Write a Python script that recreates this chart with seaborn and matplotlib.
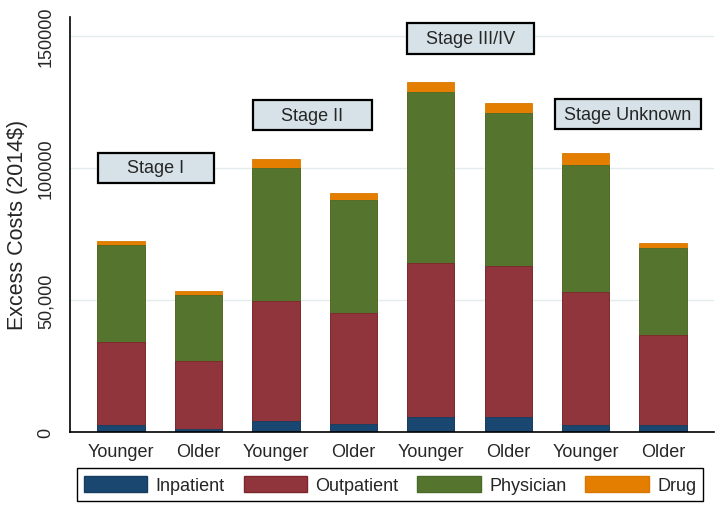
import numpy as np
import pandas as pd
import matplotlib
matplotlib.use("Agg")
import matplotlib.pyplot as plt
import matplotlib.patches as mpatches
import seaborn as sns

# --- data ---
bars = ["I_young", "I_old", "II_young", "II_old",
        "III_young", "III_old", "U_young", "U_old"]
age_labels = ["Younger", "Older"] * 4
components = ["Inpatient", "Outpatient", "Physician", "Drug"]

inpatient = [2800, 1250, 4300, 3300, 5900, 5900, 2800, 2800]
outpatient = [31300, 25650, 45550, 41900, 58100, 57000, 50200, 34100]
physician = [36600, 25200, 50250, 42800, 64900, 58050, 48250, 32800]
drug = [1500, 1300, 3200, 2650, 3700, 3650, 4450, 2000]

yticks = [0, 50000, 100000, 150000]
ytick_labels = ["0", "50,000", "100000", "150000"]

stage_labels = ["Stage I", "Stage II", "Stage III/IV", "Stage Unknown"]
stage_x = [0.45, 2.47, 4.51, 6.55]
stage_y = [100000, 120000, 149000, 120300]
stage_w = [1.49, 1.54, 1.64, 1.89]

colors = {"Inpatient": "#1A476F", "Outpatient": "#90353B",
          "Physician": "#55752F", "Drug": "#E37E00"}
edges = {"Inpatient": "#163d60", "Outpatient": "#7e262d",
         "Physician": "#4a6a28", "Drug": "#d87800"}

df = pd.DataFrame({"bar": bars, "Inpatient": inpatient, "Outpatient": outpatient,
                   "Physician": physician, "Drug": drug})
cum = df[components].cumsum(axis=1)
cum["bar"] = df["bar"]

sns.set_style("white")
plt.rcParams['font.family'] = ['Liberation Sans', 'DejaVu Sans']

fig = plt.figure(figsize=(7.21, 5.10), dpi=100)
ax = fig.add_axes([0.0971, 0.1504, 0.8932, 0.8137])

# stacked bars: draw cumulative totals from the top layer down
for comp in reversed(components):
    sns.barplot(data=cum, x="bar", y=comp, order=bars, color=colors[comp],
                saturation=1, width=0.61, errorbar=None, ax=ax,
                edgecolor=edges[comp], linewidth=0.6, zorder=2)

ax.set_xlim(-0.66, 7.66)
ax.set_ylim(0, 157000)
ax.set_xticks(range(len(bars)))
ax.set_xticklabels(age_labels)
ax.set_yticks(yticks)
ax.set_yticklabels(ytick_labels, rotation=90, va="center")
ax.set_xlabel("")
ax.set_ylabel("Excess Costs (2014$)", fontsize=15.5)
ax.yaxis.set_label_coords(-0.065, 0.503)

ax.tick_params(axis="y", length=5, width=1, pad=6, labelsize=13, color="black")
ax.tick_params(axis="x", length=0, pad=8, labelsize=13)
ax.set_axisbelow(True)
ax.grid(axis="y", color="#E3ECEF", lw=1)
sns.despine(ax=ax)
for side in ["left", "bottom"]:
    ax.spines[side].set_color("black")
    ax.spines[side].set_linewidth(1.2)

# stage label boxes
box_h = 11400
for label, xc, yc, w in zip(stage_labels, stage_x, stage_y, stage_w):
    ax.add_patch(mpatches.Rectangle((xc - w / 2, yc - box_h / 2), w, box_h,
                                    facecolor="#D6E2E7", edgecolor="black",
                                    lw=1.6, zorder=3, clip_on=False))
    ax.text(xc, yc, label, ha="center", va="center", fontsize=13, zorder=4)

handles = [mpatches.Patch(facecolor=colors[c], edgecolor=edges[c], label=c)
           for c in components]
leg = fig.legend(handles=handles, loc="center", bbox_to_anchor=(0.541, 0.0474),
                 ncol=4, frameon=True, fancybox=False, edgecolor="black",
                 framealpha=1, fontsize=13, handlelength=3.5, handleheight=1.05,
                 handletextpad=0.47, columnspacing=1.05, borderpad=0.4)
leg.get_frame().set_linewidth(1.0)

fig.savefig("out.png", dpi=100)
